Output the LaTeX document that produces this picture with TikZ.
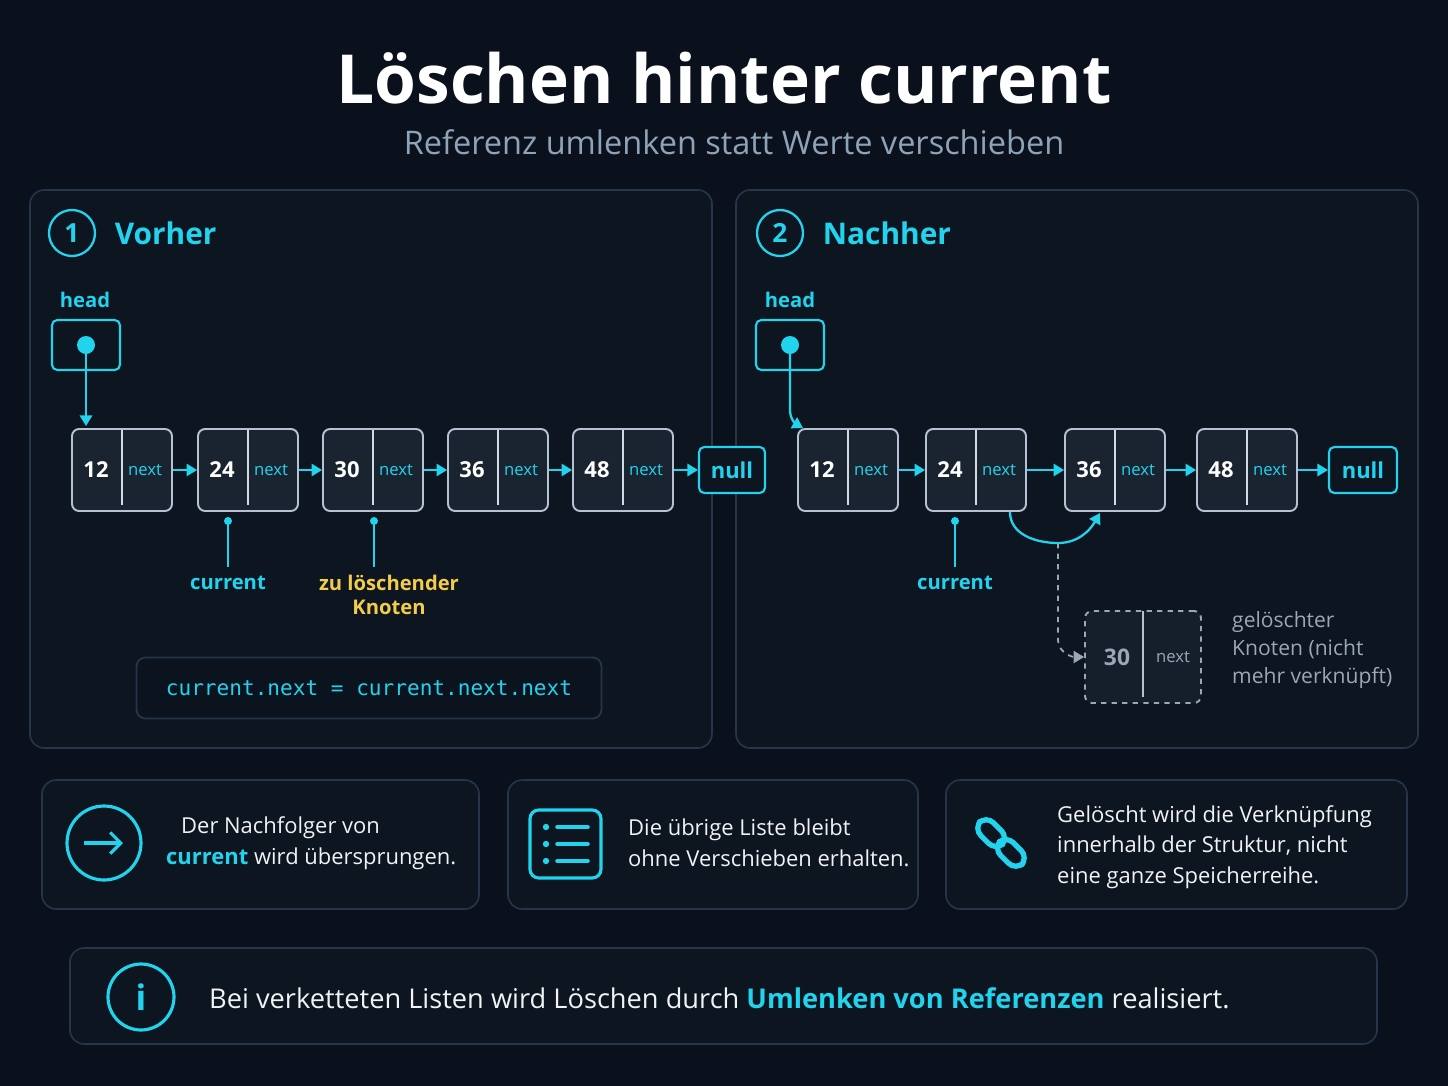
\documentclass[tikz,border=0pt]{standalone}
\usepackage{fontspec}
\setmainfont{Open Sans}
\setmonofont{DejaVu Sans Mono}
\usetikzlibrary{arrows.meta,positioning}
\definecolor{bg}{HTML}{0A111C}
\definecolor{panel}{HTML}{0D1521}
\definecolor{edge}{HTML}{26364A}
\definecolor{cyan}{HTML}{22D3EE}
\definecolor{cellfill}{HTML}{1A2431}
\definecolor{cellline}{HTML}{B4C2D2}
\definecolor{gold}{HTML}{F2CC4A}
\definecolor{muted}{HTML}{9AA7B4}
\definecolor{sub}{HTML}{8FA3B8}
\begin{document}
\begin{tikzpicture}[x=0.02cm,y=-0.02cm]
\tikzset{cell/.style = {draw=cellline, fill=cellfill, rounded corners=4pt, line width=1.1pt,
    minimum width=2cm, minimum height=1.64cm,
    path picture={\draw[cellline!60, solid] (path picture bounding box.north) ++(0,-0.12) -- ([yshift=0.12cm]path picture bounding box.south);}}}
\tikzset{gone/.style = {cell, draw=muted, dashed, fill=cellfill!70!bg, minimum width=2.32cm, minimum height=1.84cm,
    path picture={\draw[muted!70, solid] (path picture bounding box.north) ++(0,-0.12) -- ([yshift=0.12cm]path picture bounding box.south);}}}
\tikzset{val/.style = {text=white, font=\fontsize{12.5}{14}\selectfont\bfseries}}
\tikzset{nxt/.style = {text=cyan, font=\fontsize{9.5}{11}\selectfont}}
\tikzset{box/.style = {draw=cyan, line width=1.2pt, rounded corners=3pt, fill=panel}}
\tikzset{link/.style = {-{Triangle[length=6pt,width=7pt]}, cyan, line width=1.3pt}}
\tikzset{card/.style = {draw=edge, line width=0.9pt, rounded corners=8pt, fill=panel}}
\tikzset{lbl/.style = {text=cyan, font=\fontsize{11.5}{13}\selectfont\bfseries}}
\tikzset{body/.style = {text=white!85!muted, font=\fontsize{12.5}{17.5}\selectfont, align=left, anchor=west}}
% background
\fill[bg] (0,0) rectangle (1448,1086);
\node[text=white, font=\fontsize{38.5}{42}\selectfont\bfseries] (title) at (724,78) {Löschen hinter current};
\node[text=sub, font=\fontsize{18.5}{22}\selectfont] (subtitle) at (734,142) {Referenz umlenken statt Werte verschieben};
% panels
\draw[card] (30,190) rectangle (712,748);
\draw[card] (736,190) rectangle (1418,748);
\node[draw=cyan, circle, line width=1.3pt, minimum size=0.92cm, text=cyan, font=\fontsize{15}{17}\selectfont\bfseries] (n1) at (72,233) {1};
\node[right=0.25cm of n1, text=cyan, font=\fontsize{17}{20}\selectfont\bfseries] (vorher) {Vorher};
\node[draw=cyan, circle, line width=1.3pt, minimum size=0.92cm, text=cyan, font=\fontsize{15}{17}\selectfont\bfseries] (n2) at (780,233) {2};
\node[right=0.25cm of n2, text=cyan, font=\fontsize{17}{20}\selectfont\bfseries] (nachher) {Nachher};
% left list
\node[lbl] (headA) at (85,300) {head};
\node[box, minimum width=1.36cm, minimum height=1cm] (hA) at (86,345) {};
\fill[cyan] (hA.center) circle (9);
\foreach \v/\x in {12/122,24/248,30/373,36/498,48/623} {
  \node[cell] (a\v) at (\x,470) {};
  \node[val] at (\x-26,470) {\v};
  \node[nxt] at (\x+23,470) {next};
}
\node[box, minimum width=1.32cm, minimum height=0.92cm, text=cyan, font=\fontsize{12.5}{14}\selectfont\bfseries] (nullA) at (732,470) {null};
\draw[link] (hA.center) -- (86,426);
\draw[link] (a12) -- (a24);
\draw[link] (a24) -- (a30);
\draw[link] (a30) -- (a36);
\draw[link] (a36) -- (a48);
\draw[link] (a48) -- (nullA);
\coordinate (curA) at (228,521);
\coordinate (delA) at (374,521);
\fill[cyan] (curA) circle (4);
\fill[cyan] (delA) circle (4);
\node[lbl] (curAt) at (228,583) {current};
\node[text=gold, font=\fontsize{11.5}{14}\selectfont\bfseries, align=center] (delAt) at (389,595) {zu löschender\\Knoten};
\draw[cyan, line width=1.3pt] (curA) -- (228,567);
\draw[cyan, line width=1.3pt] (delA) -- (374,567);
\node[draw=edge, line width=1pt, rounded corners=5pt, fill=bg!60!panel, minimum width=9.3cm, minimum height=1.22cm, text=cyan, font=\ttfamily\fontsize{12}{14}\selectfont] (code) at (369,688) {current.next = current.next.next};
% right list
\node[lbl] (headB) at (790,300) {head};
\node[box, minimum width=1.36cm, minimum height=1cm] (hB) at (790,345) {};
\fill[cyan] (hB.center) circle (9);
\foreach \v/\x in {12/848,24/976,36/1115,48/1247} {
  \node[cell] (b\v) at (\x,470) {};
  \node[val] at (\x-26,470) {\v};
  \node[nxt] at (\x+23,470) {next};
}
\node[box, minimum width=1.36cm, minimum height=0.92cm, text=cyan, font=\fontsize{12.5}{14}\selectfont\bfseries] (nullB) at (1363,470) {null};
\draw[link] (hB.center) -- (790,410) to[out=-90,in=150] (803,428);
\draw[link] (b12) -- (b24);
\draw[link] (b24) -- (b36);
\draw[link] (b36) -- (b48);
\draw[link] (b48) -- (nullB);
\coordinate (curB) at (955,521);
\fill[cyan] (curB) circle (4);
\draw[cyan, line width=1.3pt] (curB) -- (955,567);
\node[lbl] (curBt) at (955,583) {current};
\coordinate (skip) at (1058,543);
\draw[link] (1010,512) to[out=-90,in=180] (skip) to[out=0,in=-120] (1100,513);
\node[gone] (gone) at (1143,657) {};
\node[text=muted, font=\fontsize{13}{15}\selectfont\bfseries] at (1117,657) {30};
\node[text=muted, font=\fontsize{9.5}{11}\selectfont] at (1173,657) {next};
\draw[muted, dashed, line width=1pt, -{Triangle[length=6pt,width=7pt]}] (skip) -- (1058,640) to[out=-90,in=180] (gone.west);
\node[text=muted, font=\fontsize{12}{16}\selectfont, align=left, anchor=west] (goneT) at (1226,650) {gelöschter\\Knoten (nicht\\mehr verknüpft)};
% bottom cards
\draw[card] (42,780) rectangle (479,909);
\draw[card] (508,780) rectangle (918,909);
\draw[card] (946,780) rectangle (1407,909);
\node[draw=cyan, circle, line width=1.8pt, minimum size=1.48cm] (iconA) at (104,843) {};
\draw[cyan, line width=1.8pt, -{Straight Barb[length=6pt,width=12pt]}] (84,843) -- (123,843);
\node[body] (txtA) at (160,843) {\hspace*{0.3cm}Der Nachfolger von\\{\color{cyan}\bfseries current} wird übersprungen.};
\draw[cyan, line width=1.8pt, rounded corners=5pt] (530,810) rectangle (601,878);
\foreach \yy in {827,844,861} {
  \fill[cyan] (546,\yy) circle (3.2);
  \draw[cyan, line width=2pt, line cap=round] (557,\yy) -- (588,\yy);
}
\node[body] (txtB) at (622,843) {Die übrige Liste bleibt\\ohne Verschieben erhalten.};
\begin{scope}[shift={(1001,843)}, rotate=-45]
\draw[cyan, line width=3pt, rounded corners=6pt] (-30,-9) rectangle (2,9);
\draw[cyan, line width=3pt, rounded corners=6pt] (-2,-9) rectangle (30,9);
\end{scope}
\node[body] (txtC) at (1051,847) {Gelöscht wird die Verknüpfung\\innerhalb der Struktur, nicht\\eine ganze Speicherreihe.};
% info bar
\draw[card] (70,948) rectangle (1377,1044);
\node[draw=cyan, circle, line width=1.8pt, minimum size=1.32cm, text=cyan, font=\fontsize{20}{22}\selectfont\bfseries] (info) at (141,997) {i};
\node[text=white!85!muted, font=\fontsize{15.5}{19}\selectfont, anchor=west] (infoT) at (203,998) {Bei verketteten Listen wird Löschen durch {\color{cyan}\bfseries Umlenken von Referenzen} realisiert.};
\end{tikzpicture}
\end{document}
